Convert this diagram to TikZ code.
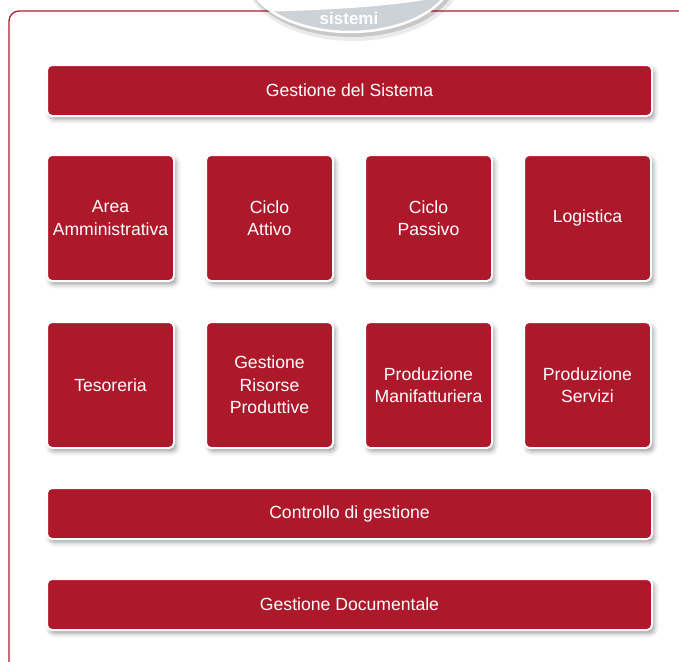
\documentclass[tikz,border=0pt]{standalone}
\usepackage{fontspec}
\setmainfont{Liberation Sans}
\usetikzlibrary{shadows.blur}
\definecolor{boxred}{RGB}{173,25,43}
\definecolor{framered}{RGB}{170,30,45}
\definecolor{badgegrey}{RGB}{205,210,215}
\tikzset{
  card/.style={draw=white, line width=2pt, fill=boxred, rounded corners=5pt,
    text=white, align=center, inner sep=0pt,
    font=\fontsize{17.6}{22.5}\selectfont,
    blur shadow={shadow xshift=2.5pt, shadow yshift=-3.5pt, shadow blur radius=4.5pt, shadow opacity=38}},
  wide/.style={card, minimum width=605pt, minimum height=51pt},
  square/.style={card, minimum width=127pt, minimum height=126pt},
}
\begin{document}
\begin{tikzpicture}[x=1pt,y=-1pt]
\useasboundingbox (0,0) rectangle (679,661);
% frame
\draw[framered, line width=1.3pt, rounded corners=10pt] (9,665) -- (9,11) -- (685,11);
% badge
\fill[black, opacity=0.15] (352,-25) ellipse [x radius=106, y radius=62];
\fill[black, opacity=0.08] (353,-23) ellipse [x radius=108, y radius=64];
\begin{scope}
  \clip (350,-28) ellipse [x radius=104, y radius=60];
  \fill[badgegrey] (240,-100) rectangle (460,40);
  \fill[white] (240,12) .. controls (330,11) and (400,6) .. (445,-4) -- (445,-100) -- (240,-100) -- cycle;
\end{scope}
\draw[white, line width=2.5pt] (350,-28) ellipse [x radius=104, y radius=60];
\node[font=\bfseries\fontsize{17}{20}\selectfont, text=white, anchor=base] (badge) at (349,25) {sistemi};
% boxes
\node[wide] (sys) at (349.5,90.5) {Gestione del Sistema};
\node[square] (area) at (110.5,218) {Area\\Amministrativa};
\node[square] (attivo) at (269.5,218) {Ciclo\\Attivo};
\node[square] (passivo) at (428.5,218) {Ciclo\\Passivo};
\node[square] (logistica) at (587.5,218) {Logistica};
\node[square] (tesoreria) at (110.5,385) {Tesoreria};
\node[square] (risorse) at (269.5,385) {Gestione\\Risorse\\Produttive};
\node[square] (manif) at (428.5,385) {Produzione\\Manifatturiera};
\node[square] (servizi) at (587.5,385) {Produzione\\Servizi};
\node[wide] (ctrl) at (349.5,513.5) {Controllo di gestione};
\node[wide] (doc) at (349.5,604.5) {Gestione Documentale};
\end{tikzpicture}
\end{document}
